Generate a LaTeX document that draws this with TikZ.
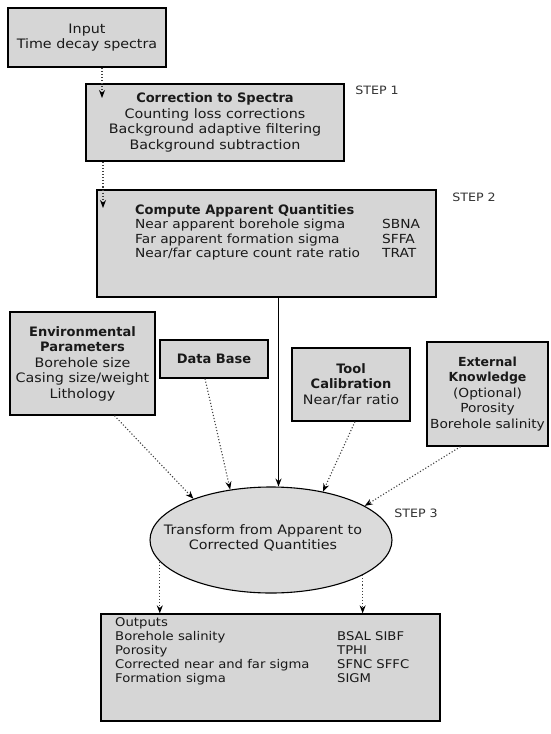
\documentclass[tikz,border=0pt]{standalone}
\usepackage{fontspec}
\setmainfont{DejaVu Sans}[FakeStretch=1.1]
\newfontfamily\bff{DejaVu Sans}[FakeStretch=1.0]
\newcommand{\tb}[1]{{\bff\bfseries #1}}
\usetikzlibrary{arrows.meta,shapes.geometric}
\newcommand{\fsz}{\fontsize{13}{15.5}\selectfont}
\tikzset{
  x=1pt,y=-1pt,
  box/.style={draw=black, line width=1.3pt, fill=gray!32, inner sep=0pt, align=center, font=\fsz, text=black!90},
  lbl/.style={inner sep=0pt, anchor=west, text=black!90},
  steplbl/.style={inner sep=0pt, font=\fontsize{11.5}{13}\selectfont, text=black!80},
  arr/.style={dotted, line width=1.1pt, draw=black!75, -{Stealth[length=8pt,width=6pt,black]}},
  arrsolid/.style={line width=1.1pt, draw=black, -{Stealth[length=8pt,width=6pt,black]}},
}
\begin{document}
\begin{tikzpicture}
\useasboundingbox (0,0) rectangle (551,734);
\fill[white] (0,0) rectangle (551,734);

% boxes
\node[box, minimum width=158pt, minimum height=59pt] (input) at (87,37.5) {Input\\Time decay spectra};
\node[box, minimum width=258pt, minimum height=77pt] (corr) at (215,122.5)
  {\tb{Correction to Spectra}\\Counting loss corrections\\Background adaptive filtering\\Background subtraction};
\node[box, minimum width=339pt, minimum height=107pt] (comp) at (266.5,243.5) {};
\node[lbl, font=\fontsize{12.5}{14.6}\selectfont] (compT) at (135,233)
  {\begin{tabular}{@{}l@{}l@{}}
   \multicolumn{2}{@{}l}{\tb{\fontsize{13}{14.6}\selectfont Compute Apparent Quantities}}\\
   \makebox[247pt][l]{Near apparent borehole sigma} & SBNA\\
   \makebox[247pt][l]{Far apparent formation sigma} & SFFA\\
   \makebox[247pt][l]{Near/far capture count rate ratio} & TRAT
   \end{tabular}};

\node[box, minimum width=145pt, minimum height=103pt] (env) at (82.5,363.5)
  {\tb{Environmental}\\\tb{Parameters}\\Borehole size\\Casing size/weight\\Lithology};
\node[box, minimum width=108pt, minimum height=38pt] (db) at (214,359) {\tb{Data Base}};
\node[box, minimum width=118pt, minimum height=73pt] (tool) at (351,384.5)
  {\tb{Tool}\\\tb{Calibration}\\Near/far ratio};
\node[box, minimum width=121pt, minimum height=104pt, font=\fontsize{12.5}{15.5}\selectfont] (ext) at (487.5,394)
  {\tb{External}\\\tb{Knowledge}\\(Optional)\\Porosity\\Borehole salinity};

\node[ellipse, draw=black, line width=1.1pt, fill=gray!28, inner sep=0pt,
      minimum width=242pt, minimum height=106pt] (ell) at (271,540) {};
\node[align=center, inner sep=0pt, font=\fsz, text=black!90] (ellT) at (263,538)
  {Transform from Apparent to\\Corrected Quantities};

\node[box, minimum width=339pt, minimum height=107pt] (out) at (270.5,667.5) {};
\node[lbl, font=\fontsize{12}{14}\selectfont] (outT) at (115,652)
  {\begin{tabular}{@{}l@{}l@{}}
   \multicolumn{2}{@{}l}{Outputs}\\
   \makebox[222pt][l]{Borehole salinity} & BSAL SIBF\\
   \makebox[222pt][l]{Porosity} & TPHI\\
   \makebox[222pt][l]{Corrected near and far sigma} & SFNC SFFC\\
   \makebox[222pt][l]{Formation sigma} & SIGM
   \end{tabular}};

% step labels
\node[steplbl] (s1) at (377,90) {STEP 1};
\node[steplbl] (s2) at (474,197) {STEP 2};
\node[steplbl] (s3) at (416,513) {STEP 3};

% connectors
\coordinate (corrin) at (102,98);
\coordinate (compin) at (103,208);
\draw[arr] (input.south -| corrin) -- (corrin);
\draw[arr] (corr.south -| compin) -- (compin);
\draw[arrsolid] (comp.south -| ell.82) -- (ell.82);
\draw[arr] ([xshift=32pt]env.south) -- (ell.152);
\draw[arr] ([xshift=-9pt]db.south) -- (ell.129);
\draw[arr] ([xshift=4pt]tool.south) -- (ell.43);
\draw[arr] ([xshift=-27pt]ext.south) -- (ell.20);
\draw[arr] (ell.191) -- (ell.191 |- out.north);
\draw[arr] (ell.339) -- (ell.339 |- out.north);
\end{tikzpicture}
\end{document}
